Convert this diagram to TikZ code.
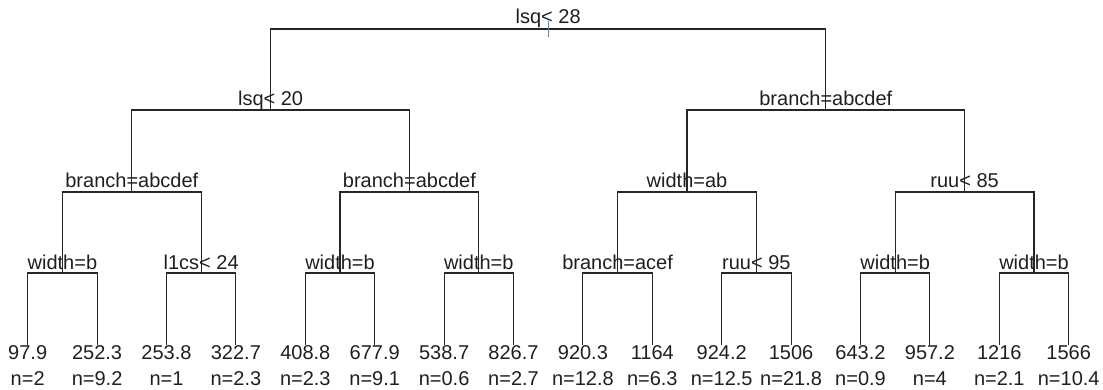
\documentclass[tikz,border=0pt]{standalone}
\usepackage{fontspec}
\setmainfont{Liberation Sans}
\definecolor{tickblue}{RGB}{70,140,205}
\begin{document}
\begin{tikzpicture}[x=1pt,y=-1pt,
  edge/.style={draw=black!85,line width=1.1pt},
  lab/.style={anchor=base,inner sep=0pt,font=\fontsize{20}{24}\selectfont,text=black!88},
  rootmark/.style={draw=tickblue,line width=1.1pt}]
\useasboundingbox (0,0) rectangle (1103,389);

% leaves: fitted value and weight
\foreach \v/\n [count=\i from 0] in {97.9/2,252.3/9.2,253.8/1,322.7/2.3,408.8/2.3,677.9/9.1,538.7/0.6,826.7/2.7,920.3/12.8,1164/6.3,924.2/12.5,1506/21.8,643.2/0.9,957.2/4,1216/2.1,1566/10.4}{
  \coordinate (l\i) at ({27.7+69.4*\i},345);
  \node[lab] (v\i) at ({27.7+69.4*\i},359) {\v};
  \node[lab] (w\i) at ({27.7+69.4*\i},385) {n=\n};
}

% split points
\coordinate (r)  at (548.2,29);
\coordinate (a1) at (270.6,110);
\coordinate (a2) at (825.8,110);
\coordinate (b1) at (131.8,192);
\coordinate (b2) at (409.4,192);
\coordinate (b3) at (687.0,192);
\coordinate (b4) at (964.6,192);
\coordinate (c1) at (62.4,273);
\coordinate (c2) at (201.2,273);
\coordinate (c3) at (340.0,273);
\coordinate (c4) at (478.8,273);
\coordinate (c5) at (617.6,273);
\coordinate (c6) at (756.4,273);
\coordinate (c7) at (895.2,273);
\coordinate (c8) at (1034.0,273);

% branches
\draw[edge] (r) -| (a1) (r) -| (a2);
\draw[edge] (a1) -| (b1) (a1) -| (b2) (a2) -| (b3) (a2) -| (b4);
\draw[edge] (b1) -| (c1) (b1) -| (c2) (b2) -| (c3) (b2) -| (c4)
            (b3) -| (c5) (b3) -| (c6) (b4) -| (c7) (b4) -| (c8);
\foreach \k [evaluate=\k as \lft using int(2*\k-2), evaluate=\k as \rgt using int(2*\k-1)] in {1,...,8}{
  \draw[edge] (c\k) -| (l\lft) (c\k) -| (l\rgt);
}

% root marker
\coordinate (t0) at (548.2,21);
\coordinate (t1) at (548.2,37);
\draw[rootmark] (t0) -- (t1);

% split labels
\node[lab] (sr)  at (548.2,23.5) {lsq< 28};
\node[lab] (sa1) at (270.6,105) {lsq< 20};
\node[lab] (sa2) at (825.8,105) {branch=abcdef};
\node[lab] (sb1) at (131.8,187) {branch=abcdef};
\node[lab] (sb2) at (409.4,187) {branch=abcdef};
\node[lab] (sb3) at (687.0,187) {width=ab};
\node[lab] (sb4) at (964.6,187) {ruu< 85};
\node[lab] (sc1) at (62.4,269) {width=b};
\node[lab] (sc2) at (201.2,269) {l1cs< 24};
\node[lab] (sc3) at (340.0,269) {width=b};
\node[lab] (sc4) at (478.8,269) {width=b};
\node[lab] (sc5) at (617.6,269) {branch=acef};
\node[lab] (sc6) at (756.4,269) {ruu< 95};
\node[lab] (sc7) at (895.2,269) {width=b};
\node[lab] (sc8) at (1034.0,269) {width=b};
\end{tikzpicture}
\end{document}
